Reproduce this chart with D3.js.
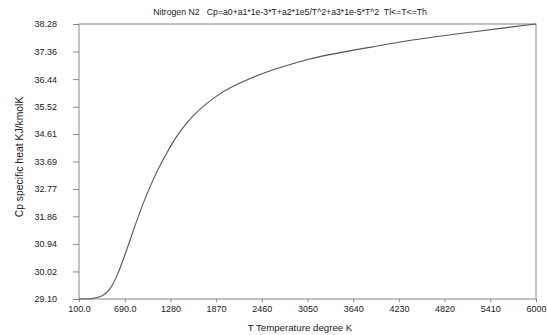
<!DOCTYPE html>
<html>
<head>
<meta charset="utf-8">
<script src="https://cdn.jsdelivr.net/npm/d3@7"></script>
<style>
  body { margin: 0; background: #fff; }
  svg { display: block; font-family: "Liberation Sans", Arial, sans-serif; }
  .tick text { fill: #222; font-size: 9px; }
  .tick line { stroke: #888; }
  .domain { stroke: none; }
  .lbl { fill: #222; white-space: pre; }
</style>
</head>
<body>
<svg id="chart" width="547" height="335"></svg>
<script>
// temperature (K) and Cp (kJ/kmol K)
let temps = [100, 250, 400, 500, 590, 670, 760, 850, 930, 1020, 1120, 1230, 1360, 1490, 1660, 1880, 2090, 2310, 2570, 2870, 3080, 3510, 3940, 4370, 5100, 5620, 6000]
let cpValues = [29.10, 29.11, 29.21, 29.44, 29.88, 30.41, 31.07, 31.74, 32.30, 32.86, 33.42, 33.96, 34.52, 34.97, 35.43, 35.88, 36.20, 36.46, 36.72, 36.96, 37.11, 37.34, 37.54, 37.73, 37.99, 38.16, 38.28]

let xTicks = [100, 690, 1280, 1870, 2460, 3050, 3640, 4230, 4820, 5410, 6000]
let xTickLabels = ["100.0", "690.0", "1280", "1870", "2460", "3050", "3640", "4230", "4820", "5410", "6000"]
let yTicks = [29.10, 30.02, 30.94, 31.86, 32.77, 33.69, 34.61, 35.52, 36.44, 37.36, 38.28]

let titleText = "Nitrogen N2   Cp=a0+a1*1e-3*T+a2*1e5/T^2+a3*1e-5*T^2  Tl<=T<=Th"
let xTitle = "T Temperature degree K"
let yTitle = "Cp specific heat KJ/kmolK"

let padLeft = 79, padRight = 536, padTop = 24, padBottom = 299

let svg = d3.select('#chart')

let xScale = d3.scaleLinear().domain([100, 6000]).range([padLeft, padRight])
let yScale = d3.scaleLinear().domain([29.10, 38.28]).range([padBottom, padTop])

// frame
svg.append('rect').attr('x', padLeft).attr('y', padTop)
   .attr('width', padRight - padLeft).attr('height', padBottom - padTop)
   .attr('fill', 'none').attr('stroke', '#888').attr('stroke-width', 1)

let xAxis = d3.axisBottom(xScale).tickValues(xTicks)
   .tickSize(3).tickPadding(4)
   .tickFormat((d, i) => xTickLabels[i])
svg.append('g').attr('transform', 'translate(0,' + padBottom + ')').call(xAxis)

let yAxis = d3.axisLeft(yScale).tickValues(yTicks)
   .tickSize(6).tickPadding(16)
   .tickFormat(d3.format('.2f'))
svg.append('g').attr('transform', 'translate(' + padLeft + ',0)').call(yAxis)

let pts = temps.map((t, i) => ({t: t, cp: cpValues[i]}))
svg.append('path').datum(pts)
   .attr('fill', 'none').attr('stroke', '#555').attr('stroke-width', 1.1)
   .attr('d', d3.line().curve(d3.curveMonotoneX)
      .x(d => xScale(d.t))
      .y(d => yScale(d.cp)))

svg.append('text').attr('class', 'lbl').text(titleText)
   .attr('x', 290).attr('y', 15).attr('text-anchor', 'middle')
   .style('font-size', '8.7px')
svg.append('text').attr('class', 'lbl').text(xTitle)
   .attr('x', 300).attr('y', 331).attr('text-anchor', 'middle')
   .style('font-size', '9.7px')
svg.append('text').attr('class', 'lbl').text(yTitle)
   .attr('transform', 'translate(23,157) rotate(-90)')
   .attr('text-anchor', 'middle')
   .style('font-size', '10.4px')
</script>
</body>
</html>
